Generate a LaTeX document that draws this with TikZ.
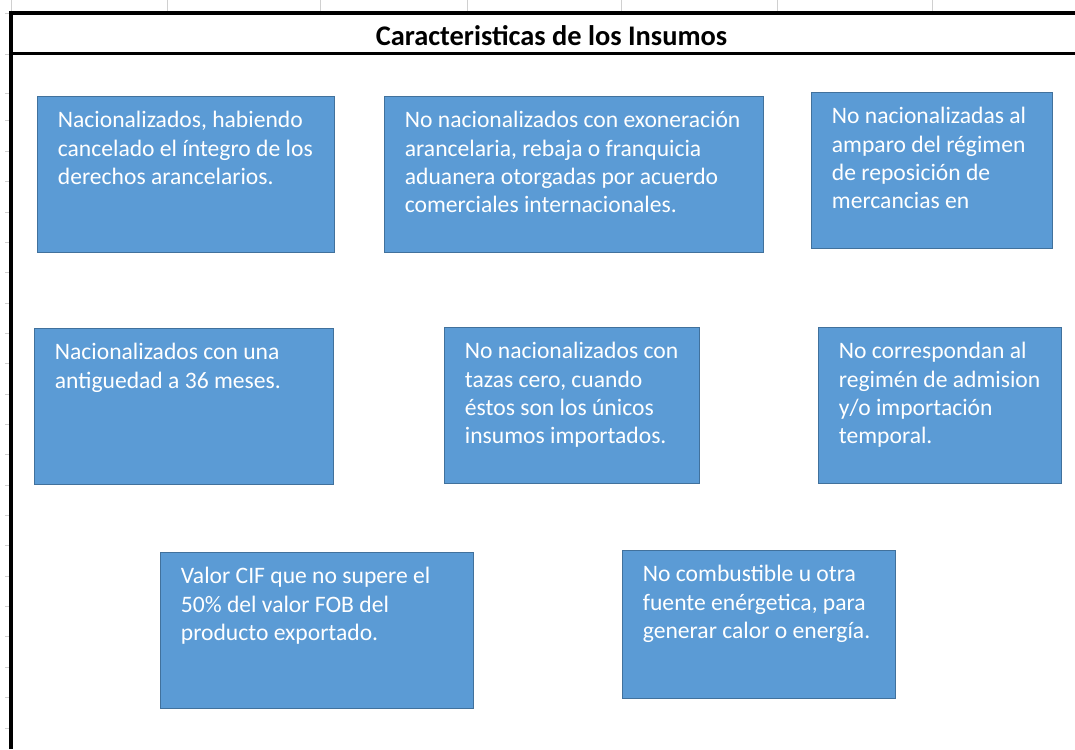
\documentclass[tikz,border=0pt]{standalone}
\usepackage{fontspec}
\setmainfont{Carlito}
\usetikzlibrary{positioning}
\definecolor{cellblue}{HTML}{5B9BD5}
\definecolor{celledge}{HTML}{41719C}
\definecolor{gridgray}{HTML}{D0D0D0}
\begin{document}
\begin{tikzpicture}[x=0.5pt,y=-0.5pt]
      \tikzstyle{box}=[rectangle,draw=celledge,fill=cellblue,line width=0.7pt,inner sep=0pt,anchor=north west]
      \tikzstyle{txt}=[text=white,align=left,inner sep=0pt,font=\fontsize{11.8}{14.2}\selectfont,execute at begin node={\rule{0pt}{10pt}}]
      \tikzstyle{tick}=[draw=gridgray,line width=0.5pt]

      \useasboundingbox (0,0) rectangle (1075,749);

      \foreach \x in {11,167,320,467,621,777,932}
        \draw[tick] (\x,0) -- (\x,12);
      \foreach \y in {14,55,94}
        \draw[tick] (5,\y) -- (10,\y);
      \foreach \k in {0,...,20}
        \draw[tick] (5,121+30.35*\k) -- (10,121+30.35*\k);

      \draw[line width=1.75pt] (11,749) -- (11,13) -- (1075,13);
      \draw[line width=1.5pt] (11,53.5) -- (1075,53.5);

      \node[font=\fontsize{14.2}{17}\selectfont\bfseries,anchor=base] (title) at (551.5,45.5) {Caracteristicas de los Insumos};

      \begin{scope}
        \node[box,minimum width=148.5pt,minimum height=78pt](b1) at (37,96){};
        \node[txt,below right=7.5pt and 10.25pt of b1.north west](b1t){Nacionalizados, habiendo\\cancelado el íntegro de los\\derechos arancelarios.};

        \node[box,minimum width=189.5pt,minimum height=78pt](b2) at (384,96){};
        \node[txt,below right=7.5pt and 10.25pt of b2.north west](b2t){No nacionalizados con exoneración\\arancelaria, rebaja o franquicia\\aduanera otorgadas por acuerdo\\comerciales internacionales.};

        \node[box,minimum width=120.5pt,minimum height=78pt](b3) at (811,92){};
        \node[txt,below right=7.5pt and 10.25pt of b3.north west](b3t){No nacionalizadas al\\amparo del régimen\\de reposición de\\mercancias en};
      \end{scope}

      \begin{scope}
        \node[box,minimum width=149.5pt,minimum height=78pt](b4) at (34,328){};
        \node[txt,below right=7.5pt and 10.25pt of b4.north west](b4t){Nacionalizados con una\\antiguedad a 36 meses.};

        \node[box,minimum width=127.5pt,minimum height=78pt](b5) at (444,327){};
        \node[txt,below right=7.5pt and 10.25pt of b5.north west](b5t){No nacionalizados con\\tazas cero, cuando\\éstos son los únicos\\insumos importados.};

        \node[box,minimum width=121.5pt,minimum height=78pt](b6) at (818,327){};
        \node[txt,below right=7.5pt and 10.25pt of b6.north west](b6t){No correspondan al\\regimén de admision\\y/o importación\\temporal.};
      \end{scope}

      \begin{scope}
        \node[box,minimum width=156.5pt,minimum height=78pt](b7) at (160,552){};
        \node[txt,below right=7.5pt and 10.25pt of b7.north west](b7t){Valor CIF que no supere el\\50\% del valor FOB del\\producto exportado.};

        \node[box,minimum width=136.5pt,minimum height=74pt](b8) at (622,550){};
        \node[txt,below right=7.5pt and 10.25pt of b8.north west](b8t){No combustible u otra\\fuente enérgetica, para\\generar calor o energía.};
      \end{scope}
    \end{tikzpicture}
\end{document}
